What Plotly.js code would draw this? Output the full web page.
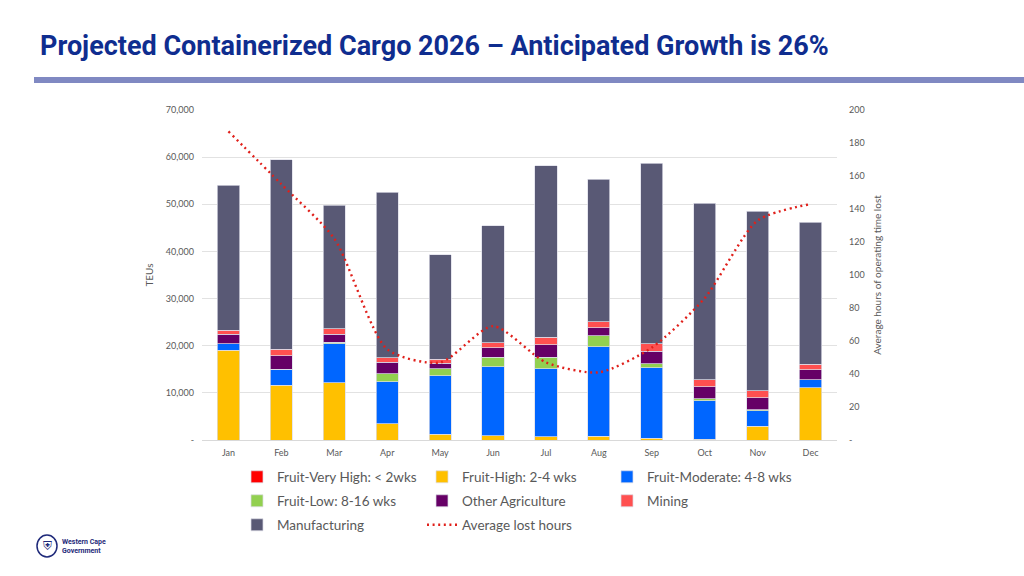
<!DOCTYPE html>
<html>
<head>
<meta charset="utf-8">
<script src="https://cdn.plot.ly/plotly-3.0.1.min.js"></script>
<style>html,body{margin:0;padding:0;background:#fff;}#chart{width:1024px;height:576px;}</style>
</head>
<body>
<div id="chart"></div>
<script>
// ---- data ----
const months = ["Jan","Feb","Mar","Apr","May","Jun","Jul","Aug","Sep","Oct","Nov","Dec"];
const fruitVeryHigh = [0,0,0,0,0,0,0,0,0,0,0,0];
const fruitHigh     = [19000,11600,12170,3400,1200,920,710,780,420,200,2900,11110];
const fruitModerate = [1400,3450,8210,8910,12390,14650,14360,19040,14870,8150,3330,1630];
const fruitLow      = [0,0,360,1700,1560,1980,2480,2260,920,430,210,0];
const otherAgri     = [2000,2850,1690,2480,1130,1980,2620,1700,2620,2540,2550,2190];
const mining        = [850,1350,1140,990,850,1060,1630,1270,1550,1420,1410,1130];
const manufacturing = [30750,40200,26180,35030,22150,24850,36370,30220,38360,37510,38080,30150];
const lostHours     = [187,155,122,55,47,69,47,41,56,86,133,143];

const leftTicks = [0,10000,20000,30000,40000,50000,60000,70000];
const leftTickText = ["-","10,000","20,000","30,000","40,000","50,000","60,000","70,000"];
const rightTicks = [0,20,40,60,80,100,120,140,160,180,200];
const rightTickText = ["-","20","40","60","80","100","120","140","160","180","200"];

// ---- layout helpers (pixel -> paper) ----
const PL = 202, PR = 837, PT = 110, PB = 440;
const px = x => (x - PL) / (PR - PL);
const py = y => (PB - y) / (PB - PT);

const barLine = {color: 'rgba(220,220,232,0.9)', width: 0.8};
function bar(name, y, color, lg) {
  return {type: 'bar', name: name, x: months, y: y, legend: lg, marker: {color: color, line: barLine}, hoverinfo: 'name+y'};
}

const traces = [
  bar('Fruit-Very High: < 2wks', fruitVeryHigh, '#FF0000', 'legend'),
  bar('Fruit-High: 2-4 wks', fruitHigh, '#FFC000', 'legend'),
  bar('Fruit-Moderate: 4-8 wks', fruitModerate, '#0066FF', 'legend'),
  bar('Fruit-Low: 8-16 wks', fruitLow, '#92D050', 'legend2'),
  bar('Other Agriculture', otherAgri, '#660066', 'legend2'),
  bar('Mining', mining, '#FF5050', 'legend2'),
  bar('Manufacturing', manufacturing, '#595975', 'legend3'),
  {type: 'scatter', mode: 'lines', name: 'Average lost hours', x: months, y: lostHours, yaxis: 'y2', legend: 'legend3',
   line: {color: '#E0201B', width: 2.4, dash: '2px,3.6px', shape: 'spline', smoothing: 0.7}}
];

const tickFont = {family: 'Lato, "Open Sans", sans-serif', size: 9, color: '#595959'};
const legFont = {family: 'Lato, "Open Sans", sans-serif', size: 13.5, color: '#595959'};
function leg(yPix) {
  return {orientation: 'h', x: px(237), xanchor: 'left', y: py(yPix), yanchor: 'middle',
    entrywidth: 140, entrywidthmode: 'pixels', traceorder: 'normal', font: legFont,
    bgcolor: 'rgba(0,0,0,0)'};
}

const layout = {
  width: 1024, height: 576,
  margin: {l: PL, r: 1024 - PR, t: PT, b: 576 - PB, pad: 0},
  paper_bgcolor: '#ffffff', plot_bgcolor: '#ffffff',
  barmode: 'stack', bargap: 0.58,
  showlegend: true,
  title: {
    text: '<b>Projected Containerized Cargo 2026 – Anticipated Growth is 26%</b>',
    xref: 'container', yref: 'container', x: 40/1024, xanchor: 'left', y: 1 - 46/576, yanchor: 'middle',
    font: {family: '"Liberation Sans Narrow", "Arial Narrow", Roboto, sans-serif', size: 27, color: '#0F2D8F'}
  },
  xaxis: {
    type: 'category', tickfont: tickFont, showgrid: false, zeroline: false,
    showline: true, linecolor: '#d9d9d9', linewidth: 1, ticks: '', automargin: false,
    ticklabelstandoff: 4
  },
  yaxis: {
    range: [0, 70000], tickvals: leftTicks, ticktext: leftTickText, tickfont: tickFont,
    gridcolor: '#e2e2e2', gridwidth: 1, zeroline: false, showline: false, ticks: '',
    ticklabelstandoff: 7, automargin: false,
    title: {text: 'TEUs', font: {family: 'Lato, "Open Sans", sans-serif', size: 10, color: '#595959'}, standoff: 10}
  },
  yaxis2: {
    overlaying: 'y', side: 'right', range: [0, 200], tickvals: rightTicks, ticktext: rightTickText,
    tickfont: tickFont, showgrid: false, zeroline: false, showline: false, ticks: '',
    ticklabelstandoff: 11, automargin: false,
    title: {text: 'Average hours of operating time lost', font: {family: 'Lato, "Open Sans", sans-serif', size: 10, color: '#595959'}, standoff: 10}
  },
  legend: leg(477),
  legend2: leg(501),
  legend3: leg(525),
  shapes: [
    {type: 'rect', xref: 'paper', yref: 'paper', x0: px(34), x1: px(1024), y0: py(83), y1: py(77),
     fillcolor: '#8089C2', line: {width: 0}, layer: 'above'},
    {type: 'circle', xref: 'paper', yref: 'paper', x0: px(37), x1: px(57), y0: py(557), y1: py(535),
     fillcolor: 'rgba(0,0,0,0)', line: {color: '#1F2A7A', width: 1.5}}
  ],
  annotations: [
    {xref: 'paper', yref: 'paper', x: px(60), y: py(546), xanchor: 'left', yanchor: 'middle', align: 'left',
     showarrow: false, text: '<b>Western Cape<br>Government</b>',
     font: {family: 'Roboto, sans-serif', size: 7, color: '#1F2A7A'}},
    {xref: 'paper', yref: 'paper', x: px(47), y: py(546), xanchor: 'center', yanchor: 'middle',
     showarrow: false, text: '⛨', font: {family: 'DejaVu Sans, sans-serif', size: 12, color: '#1F2A7A'}}
  ]
};

Plotly.newPlot('chart', traces, layout, {displayModeBar: false, staticPlot: true});
</script>
</body>
</html>
